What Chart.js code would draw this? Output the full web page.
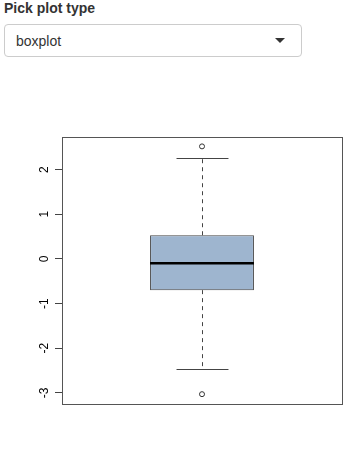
<!DOCTYPE html>
<html>
<head>
<meta charset="utf-8">
<script src="https://cdn.jsdelivr.net/npm/chart.js@4"></script>
<style>
  body { margin: 0; background: #fff; font-family: "Liberation Sans", Arial, sans-serif; color: #333; }
  .lbl { position: absolute; left: 4px; top: 0px; font-weight: bold; font-size: 14px; line-height: 16px; }
  .sel { position: absolute; left: 4px; top: 24px; width: 296px; height: 31px; border: 1px solid #ccc; border-radius: 4px; }
  .sel span { position: absolute; left: 11px; top: 8px; font-size: 14px; line-height: 16px; color: #333; }
  .caret { position: absolute; left: 270px; top: 13px; width: 0; height: 0;
           border-left: 5px solid transparent; border-right: 5px solid transparent; border-top: 5px solid #333; }
  #wrap { position: absolute; left: 0; top: 100px; width: 350px; height: 320px; }
</style>
</head>
<body>
<div class="lbl">Pick plot type</div>
<div class="sel"><span>boxplot</span><div class="caret"></div></div>
<div id="wrap"><canvas id="myChart"></canvas></div>
<script>
// summary of the single boxplot
const categories = ['1'];
const q1 = [-0.70];
const median = [-0.10];
const q3 = [0.53];
const whiskerLow = [-2.46];
const whiskerHigh = [2.26];
const outliers = [2.52, -3.03];
const yTicks = [-3, -2, -1, 0, 1, 2];
const yMin = -3.25;
const yMax = 2.73;

// whiskers, caps and median, placed with the chart's own scales
const boxParts = {
  id: 'boxParts',
  afterDatasetsDraw(chart) {
    const ctx = chart.ctx;
    const y = chart.scales.y;
    const meta = chart.getDatasetMeta(0);
    meta.data.forEach((bar, i) => {
      const cx = Math.round(bar.x) + 0.5;
      const half = bar.width / 2;
      ctx.save();
      ctx.strokeStyle = '#444';
      ctx.lineWidth = 1;
      ctx.setLineDash([4, 4]);
      ctx.beginPath();
      ctx.moveTo(cx, y.getPixelForValue(q3[i]));
      ctx.lineTo(cx, y.getPixelForValue(whiskerHigh[i]));
      ctx.moveTo(cx, y.getPixelForValue(q1[i]));
      ctx.lineTo(cx, y.getPixelForValue(whiskerLow[i]));
      ctx.stroke();
      ctx.setLineDash([]);
      ctx.beginPath();
      [whiskerHigh[i], whiskerLow[i]].forEach(v => {
        const py = Math.round(y.getPixelForValue(v)) + 0.5;
        ctx.moveTo(cx - half / 2, py);
        ctx.lineTo(cx + half / 2, py);
      });
      ctx.stroke();
      ctx.strokeStyle = '#000';
      ctx.lineWidth = 2.5;
      ctx.beginPath();
      const my = y.getPixelForValue(median[i]);
      ctx.moveTo(bar.x - half, my);
      ctx.lineTo(bar.x + half, my);
      ctx.stroke();
      ctx.restore();
    });
  }
};

const frame = {
  id: 'frame',
  afterDraw(chart) {
    const a = chart.chartArea;
    const ctx = chart.ctx;
    ctx.save();
    ctx.strokeStyle = '#555';
    ctx.lineWidth = 1;
    ctx.strokeRect(Math.round(a.left) + 0.5, Math.round(a.top) + 0.5,
                   Math.round(a.right - a.left), Math.round(a.bottom - a.top));
    ctx.restore();
  }
};

new Chart(document.getElementById('myChart'), {
  type: 'bar',
  data: {
    labels: categories,
    datasets: [{
      data: categories.map((c, i) => [q1[i], q3[i]]),
      backgroundColor: '#9eb5cf',
      borderColor: '#444',
      borderWidth: 1,
      borderSkipped: false,
      barPercentage: 0.371,
      categoryPercentage: 1
    }, {
      type: 'line',
      data: outliers.map(v => ({ x: categories[0], y: v })),
      showLine: false,
      pointStyle: 'circle',
      pointRadius: 2.5,
      pointBorderWidth: 1,
      pointBackgroundColor: 'rgba(0,0,0,0)',
      pointBorderColor: '#333'
    }]
  },
  options: {
    animation: false,
    responsive: true,
    maintainAspectRatio: false,
    devicePixelRatio: 1,
    layout: { padding: { top: 37, right: 8, bottom: 16, left: 0 } },
    plugins: { legend: { display: false }, tooltip: { enabled: false } },
    scales: {
      x: { display: false },
      y: {
        min: yMin,
        max: yMax,
        afterBuildTicks(scale) { scale.ticks = yTicks.map(v => ({ value: v })); },
        afterFit(scale) { scale.width = 62; },
        border: { display: false },
        grid: { drawOnChartArea: false, drawTicks: true, tickLength: 7, color: '#444' },
        ticks: {
          minRotation: 90,
          maxRotation: 90,
          padding: 5,
          crossAlign: 'center',
          color: '#000',
          font: { family: 'Liberation Sans', size: 12 }
        }
      }
    }
  },
  plugins: [boxParts, frame]
});
</script>
</body>
</html>
